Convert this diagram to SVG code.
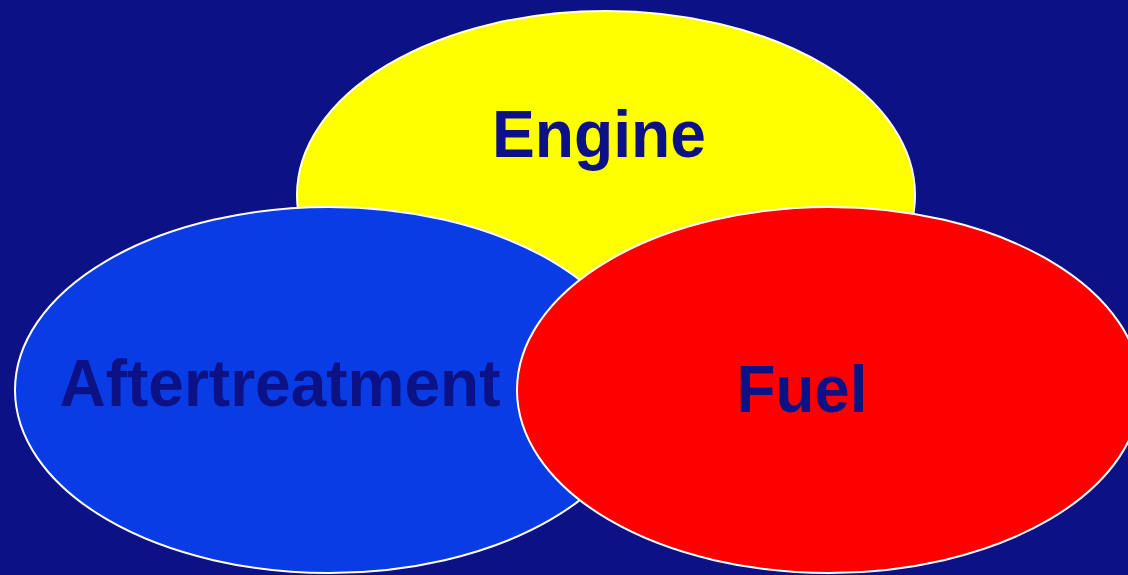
<svg xmlns="http://www.w3.org/2000/svg" width="1128" height="575" viewBox="0 0 1128 575">
  <style>
    .ring { stroke: #ffffff; stroke-width: 2; }
    .label { font-family: "Liberation Sans", Arial, sans-serif; font-weight: bold; font-size: 66px; fill: #0d1186; text-anchor: middle; }
  </style>
  <rect width="1128" height="575" fill="#0d1186"/>
  <g id="engine">
    <ellipse class="ring" cx="606" cy="195" rx="309" ry="184" fill="#ffff00"/>
    <text class="label" x="599" y="157" textLength="214" lengthAdjust="spacingAndGlyphs">Engine</text>
  </g>
  <g id="aftertreatment">
    <ellipse class="ring" cx="329" cy="390" rx="314" ry="183" fill="#0a3ce6"/>
    <text class="label" x="280" y="406" textLength="441" lengthAdjust="spacingAndGlyphs">Aftertreatment</text>
  </g>
  <g id="fuel">
    <ellipse class="ring" cx="829" cy="390" rx="312" ry="183" fill="#ff0000"/>
    <text class="label" x="802" y="412" textLength="131" lengthAdjust="spacingAndGlyphs">Fuel</text>
  </g>
  <g id="connectors"/>
</svg>
